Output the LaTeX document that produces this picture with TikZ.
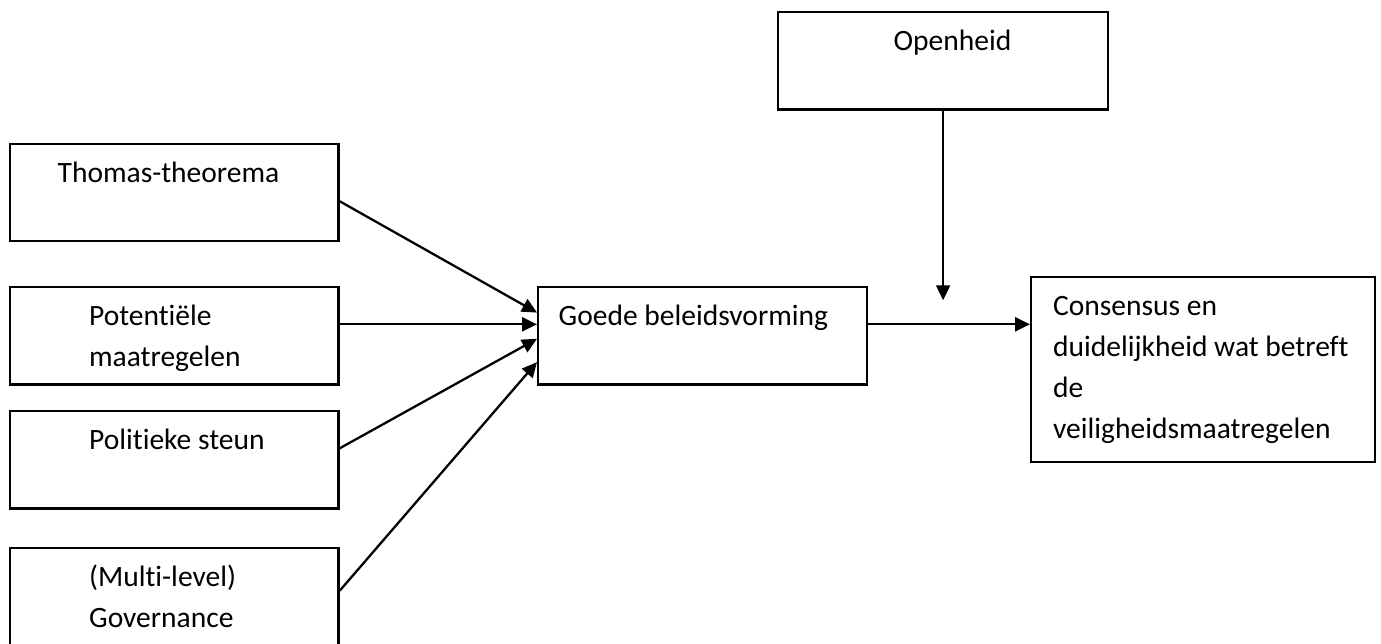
\documentclass[tikz,border=0pt]{standalone}
\usepackage{fontspec}
\setmainfont{Carlito}[Ligatures={NoCommon,NoContextual}, Contextuals=NoAlternate]
\usetikzlibrary{arrows.meta}

\begin{document}
\begin{tikzpicture}[x=0.02cm, y=-0.02cm, >={Triangle[length=0.3cm, width=0.28cm]},
  box/.style={draw, line width=1.3pt, anchor=north west, inner sep=0pt,
    text width=6.58cm, text height=0.77cm, text depth=1.18cm, align=left,
    font=\fontsize{16.8pt}{23.3pt}\selectfont,
    execute at begin node={\leftskip=#1\relax\spaceskip=0pt\xspaceskip=0pt\relax}},
  pijl/.style={->, line width=1.3pt}]
\useasboundingbox (0,0) rectangle (1381,643);
\node[box=0.96cm] (thomas) at (8.5,142.7) {Thomas-theorema};
\node[box=1.59cm] (potentieel) at (8.5,286) {Potentiële\\maatregelen};
\node[box=1.59cm] (politiek) at (8.5,410) {Politieke steun};
\node[box=1.59cm] (governance) at (8.5,546.6) {(Multi-level)\\Governance};
\node[box=0.41cm] (goede) at (537,286) {Goede beleidsvorming};
\node[box=2.31cm, text width=6.6cm] (openheid) at (777,11) {Openheid};
\node[box=0.44cm, text width=6.88cm, text depth=2.93cm] (consensus) at (1030,276)
  {Consensus en\\duidelijkheid wat betreft\\de\\veiligheidsmaatregelen};
\path (openheid.south) ++(0,189.5) coordinate (kruis);
\draw[pijl] (thomas.357) -- (goede.172);
\draw[pijl] (potentieel.4) -- (goede.176);
\draw[pijl] (politiek.4) -- (goede.181);
\draw[pijl] (governance.2) -- (goede.189);
\draw[pijl] (goede.4) -- (goede.4 -| consensus.west);
\draw[pijl] (openheid.south) -- (kruis);
\end{tikzpicture}
\end{document}
